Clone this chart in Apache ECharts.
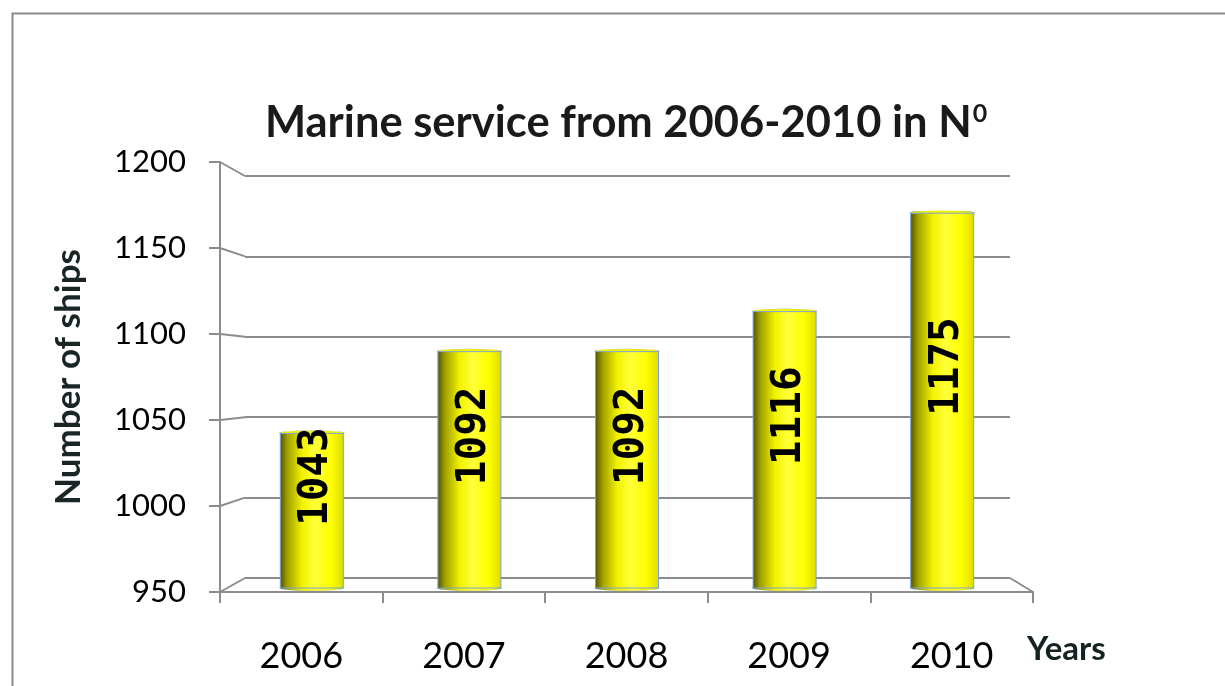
<!DOCTYPE html>
<html><head><meta charset="utf-8">
<script src="https://cdn.jsdelivr.net/npm/echarts@6/dist/echarts.min.js"></script>
<style>html,body{margin:0;padding:0;background:#fff}#c{width:1225px;height:686px}</style>
</head><body><div id="c"></div>
<script>
const years = ['2006', '2007', '2008', '2009', '2010'];
const ships = [1043, 1092, 1092, 1116, 1175];
const yMin = 950, yMax = 1200, yStep = 50;
const titleMain = 'Marine service from 2006-2010 in N';
const titleSup = '0';
const yName = 'Number of ships';
const xName = 'Years';

const chart = echarts.init(document.getElementById('c'));
const gray = '#8c8c8c';
const blue = '#7ba3d6';
function cyl() {
  return new echarts.graphic.LinearGradient(0, 0, 1, 0, [
    {offset: 0, color: '#505000'},
    {offset: 0.12, color: '#a0a000'},
    {offset: 0.35, color: '#f2f200'},
    {offset: 0.55, color: '#ffff3a'},
    {offset: 0.8, color: '#ffff00'},
    {offset: 1, color: '#dcdc00'}
  ]);
}

chart.setOption({
  animation: false,
  backgroundColor: '#fff',
  title: {
    text: '{t|' + titleMain + '}{s|' + titleSup + '}',
    left: 260, top: 96,
    textStyle: {
      rich: {
        t: {fontFamily: 'Lato', fontWeight: 'bold', fontSize: 43.5, color: '#1a1a1a'},
        s: {fontFamily: 'Lato', fontWeight: 'bold', fontSize: 25, color: '#1a1a1a', verticalAlign: 'top', padding: [0, 0, 0, 1]}
      }
    }
  },
  grid: [
    {left: 220, right: 192, top: 162, bottom: 94},
    {left: 245, right: 215, top: 176, bottom: 108},
    {left: 233, right: 204, top: 171, bottom: 98}
  ],
  xAxis: [
    {gridIndex: 0, type: 'category', data: years,
     axisLine: {lineStyle: {color: gray, width: 2}},
     axisTick: {show: true, length: 11, lineStyle: {color: gray, width: 2}},
     axisLabel: {fontFamily: 'Lato', fontSize: 36, color: '#000', margin: 46}},
    {gridIndex: 1, type: 'category', data: years, show: false},
    {gridIndex: 2, type: 'category', data: years, show: false}
  ],
  yAxis: [
    {gridIndex: 0, type: 'value', min: yMin, max: yMax, interval: yStep,
     name: yName, nameLocation: 'middle', nameGap: 134,
     nameTextStyle: {fontFamily: 'Lato', fontWeight: 'bold', fontSize: 35, color: '#1a2626'},
     axisLine: {show: true, lineStyle: {color: gray, width: 2}},
     axisTick: {show: true, length: 11, lineStyle: {color: gray, width: 2}},
     splitLine: {show: false},
     axisLabel: {fontFamily: 'Lato', fontSize: 31, color: '#000', margin: 34,
       formatter: function (v) { return String(v); }}},
    {gridIndex: 1, type: 'value', min: yMin, max: yMax, interval: yStep,
     axisLine: {show: false}, axisTick: {show: false}, axisLabel: {show: false},
     splitLine: {show: true, lineStyle: {color: gray, width: 2}}},
    {gridIndex: 2, type: 'value', min: yMin, max: yMax, interval: yStep, show: false,
     splitLine: {show: false}}
  ],
  series: [
    {type: 'custom', xAxisIndex: 2, yAxisIndex: 2, data: ships, z: 1,
     renderItem: function (params, api) {
       const b = api.coord([api.value(0), yMin]);
       return {type: 'circle', x: b[0], y: b[1], scaleY: 0.09,
         shape: {cx: 0, cy: 0, r: 32},
         style: {fill: cyl(), stroke: blue, lineWidth: 1.2, strokeNoScale: true}};
     },
     encode: {x: 0, y: 1}},
    {type: 'custom', xAxisIndex: 2, yAxisIndex: 2, data: ships, z: 2,
     renderItem: function (params, api) {
       const t = api.coord([api.value(0), api.value(1)]);
       return {type: 'circle', x: t[0], y: t[1], scaleY: 0.07,
         shape: {cx: 0, cy: 0, r: 32},
         style: {fill: '#f4f400', stroke: blue, lineWidth: 1.5, strokeNoScale: true}};
     },
     encode: {x: 0, y: 1}},
    {type: 'bar', xAxisIndex: 2, yAxisIndex: 2, data: ships, barWidth: 64, z: 3,
     itemStyle: {color: cyl(), borderColor: blue, borderWidth: 1},
     label: {show: true, position: 'inside', rotate: 90, offset: [34, 5],
       fontFamily: 'DejaVu Sans Mono', fontWeight: 'bold', fontSize: 41, color: '#000'}}
  ]
});

function gridRect(i) {
  return chart.getModel().getComponent('grid', i).coordinateSystem.getRect();
}
const r0 = gridRect(0), r1 = gridRect(1);
const gfx = [
  {type: 'rect', id: 'frame', left: 10, top: 11, silent: true,
   shape: {x: 0, y: 0, width: 1240, height: 700},
   style: {fill: 'none', stroke: '#8a8a8a', lineWidth: 2}},
  {type: 'text', id: 'xname', left: 1027, top: 633,
   style: {text: xName, font: 'bold 33px Lato', fill: '#142222'}}
];
for (let v = yMin; v <= yMax; v += yStep) {
  const yF = chart.convertToPixel({yAxisIndex: 0}, v);
  const yB = chart.convertToPixel({yAxisIndex: 1}, v);
  gfx.push({type: 'line', z: 5, silent: true,
    shape: {x1: r0.x, y1: yF, x2: r1.x, y2: yB},
    style: {stroke: gray, lineWidth: 2}});
}
const yF0 = chart.convertToPixel({yAxisIndex: 0}, yMin);
const yB0 = chart.convertToPixel({yAxisIndex: 1}, yMin);
gfx.push({type: 'line', silent: true,
  shape: {x1: r1.x + r1.width, y1: yB0, x2: r0.x + r0.width, y2: yF0},
  style: {stroke: gray, lineWidth: 2}});
chart.setOption({graphic: gfx});
</script>
</body></html>
